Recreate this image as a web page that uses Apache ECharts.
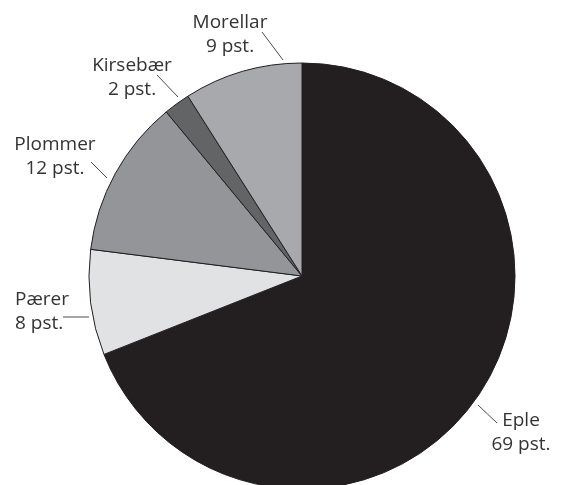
<!DOCTYPE html>
<html>
<head>
<meta charset="utf-8">
<script src="https://cdn.jsdelivr.net/npm/echarts@6.0.0/dist/echarts.min.js"></script>
<style>
html,body{margin:0;padding:0;background:#fff;}
#chart{width:562px;height:485px;}
</style>
</head>
<body>
<div id="chart"></div>
<script>
// Data
const categories = ['Eple', 'Pærer', 'Plommer', 'Kirsebær', 'Morellar'];
const values = [69, 8, 12, 2, 9];

// Styles (not data)
const sliceColors = ['#231f20', '#e1e2e4', '#939598', '#636466', '#a7a9ac'];
// label anchor and leader line per category (pixel layout)
const labelPlacement = {
  'Eple':     { x: 521, y: 433, align: 'center', line: [[478, 405], [497, 423]] },
  'Pærer':    { x: 15,  y: 312, align: 'left',   line: [[63, 317], [89, 317]] },
  'Plommer':  { x: 55,  y: 157, align: 'center', line: [[91, 162], [107, 178]] },
  'Kirsebær': { x: 132, y: 78,  align: 'center', line: [[157, 75], [178, 97]] },
  'Morellar': { x: 230, y: 35,  align: 'center', line: [[262, 32], [283, 60]] }
};

const chart = echarts.init(document.getElementById('chart'), null, { renderer: 'canvas' });

const seriesData = categories.map((c, i) => ({
  name: c,
  value: values[i],
  itemStyle: { color: sliceColors[i] }
}));

chart.setOption({
  animation: false,
  backgroundColor: '#ffffff',
  series: [{
    type: 'pie',
    center: [302, 276],
    radius: 213,
    startAngle: 90,
    clockwise: true,
    avoidLabelOverlap: false,
    data: seriesData,
    itemStyle: { borderColor: '#231f20', borderWidth: 1 },
    emphasis: { disabled: true },
    label: {
      show: true,
      position: 'outside',
      formatter: '{b}\n{c} pst.',
      fontFamily: 'Open Sans',
      fontSize: 19,
      lineHeight: 24,
      color: '#333333',
      align: 'center'
    },
    labelLine: {
      show: true,
      lineStyle: { color: '#4a4a4a', width: 1 }
    },
    labelLayout: function (params) {
      const name = categories[params.dataIndex];
      const p = labelPlacement[name];
      const a = p.line[0], b = p.line[1];
      return {
        x: p.x,
        y: p.y,
        align: p.align,
        verticalAlign: 'middle',
        hideOverlap: false,
        moveOverlap: null,
        labelLinePoints: [a, [(a[0] + b[0]) / 2, (a[1] + b[1]) / 2], b]
      };
    }
  }]
});
</script>
</body>
</html>
